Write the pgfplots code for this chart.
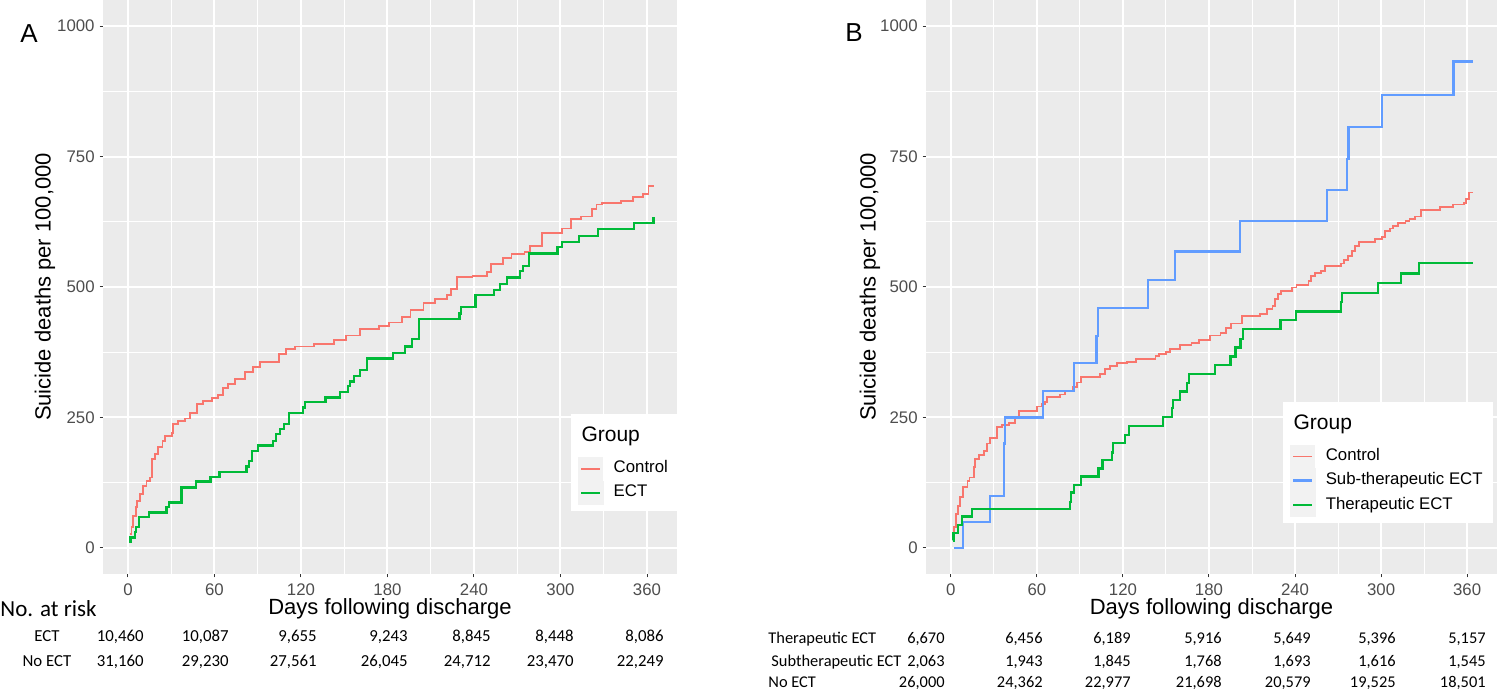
\documentclass[border=0pt]{standalone}
\usepackage{fontspec}
\setmainfont{Liberation Sans}
\newfontfamily\tabfont{Carlito}
\usepackage{pgfplots}
\pgfplotsset{compat=1.18}
\definecolor{panelbg}{HTML}{EBEBEB}
\definecolor{ctrlred}{HTML}{F8766D}
\definecolor{subblue}{HTML}{619CFF}
\definecolor{thergreen}{HTML}{00BA38}
\definecolor{tickgray}{HTML}{4D4D4D}
\definecolor{tickmark}{HTML}{333333}
\definecolor{keybg}{HTML}{F2F2F2}
\pgfplotsset{gg/.style={
  scale only axis, height=287pt,
  xmin=-17.3, xmax=380.8, ymin=-50, ymax=1050,
  axis background/.style={fill=panelbg},
  axis line style={draw=none},
  xtick={0,60,...,360}, ytick={0,250,500,750,1000},
  minor xtick={30,90,...,330}, minor ytick={125,375,625,875},
  grid=both,
  major grid style={white, line width=1pt},
  minor grid style={white, line width=0.5pt},
  tick align=outside, major tick length=1.7pt, minor tick length=0pt,
  xtick pos=bottom, ytick pos=left,
  major tick style={tickmark, line width=0.5pt},
  /pgf/number format/assume math mode=true,
  /pgf/number format/1000 sep={},
  xticklabel style={font=\fontsize{8.4}{10}\selectfont, text=tickgray, anchor=north, inner sep=0pt, yshift=-2.8pt},
  yticklabel style={font=\fontsize{8.4}{10}\selectfont, text=tickgray, anchor=east, inner sep=0pt, xshift=-2.3pt},
  xlabel={Days following discharge},
  ylabel={Suicide deaths per 100,000},
  xlabel style={font=\fontsize{11}{13}\selectfont, at={(axis description cs:0.5,-0.061)}, anchor=center},
  ylabel style={font=\fontsize{11}{13}\selectfont, anchor=center},
  legend cell align=left,
  legend style={anchor=north west, fill=white, draw=none, inner xsep=3.5pt, inner ysep=3pt,
    font=\fontsize{8.4}{10}\selectfont, row sep=0pt, column sep=3.5pt,
    nodes={inner sep=1.6pt, text height=6pt, text depth=1.8pt}},
  keyline/.style={legend image code/.code={\fill[keybg] (0pt,-5.5pt) rectangle (11.5pt,5.5pt); \draw[##1] (1pt,0pt) -- (10.5pt,0pt);}},
  ctrlstyle/.style={draw=ctrlred, line width=0.95pt, const plot},
  substyle/.style={draw=subblue, line width=1.15pt, const plot},
  therstyle/.style={draw=thergreen, line width=1.15pt, const plot},
}}
\begin{document}
\begin{tikzpicture}
\path[use as bounding box] (0,0) rectangle (750pt,345pt);
% Panel A
\begin{axis}[gg, at={(51.5pt,58pt)}, anchor=south west, width=287pt,
  legend style={at={(axis description cs:0.815,0.279)}},
  ylabel style={at={(axis description cs:-0.101,0.5)}}]
\addlegendimage{empty legend}
\addlegendentry[text height=9pt, text depth=6pt, font=\fontsize{10.5}{12}\selectfont]{\hspace*{-16.1pt}Group}
\addlegendimage{keyline, draw=ctrlred, line width=0.95pt}
\addlegendentry{Control}
\addlegendimage{keyline, draw=thergreen, line width=1.15pt}
\addlegendentry{ECT}
\addplot[ctrlstyle, forget plot] coordinates {
(1.4,27)(2.5,40)(3.7,62)(5.6,78)(6.5,90)(8.3,103)(10.6,119)(12.9,129)(15.2,135)(16.4,170)(18.7,180)(21,193)(24,205)(25.7,215)(30.3,221)(31.5,237)(35,243)(39.6,248)(43.1,259)(47.7,275)(52.3,282)(58,288)(62.6,293)(66,307)(69.5,314)(74,323)(81.3,337)(86.5,347)(91.6,357)(104.5,371)(109.7,381)(116,386)(129,391)(143,398)(151,407)(161,419)(174,425)(181,432)(190,443)(196,456)(205,469)(213,477)(221,484)(224,497)(228,520)(239,521)(249,528)(252,544)(260,555)(266,564)(275,567)(279,579)(287,603)(301,612)(307,631)(314,635)(322,649)(325,658)(329,661)(342,665)(350,672)(357,679)(361,694)(364.6,694)};
\addplot[therstyle, forget plot] coordinates {
(0.9,11)(1.8,20)(4.9,30)(5.6,40)(7.9,59)(14.8,68)(26.8,78)(28.4,87)(37.2,116)(47,127)(57.3,136)(63.4,146)(82.3,156)(84,167)(85.8,186)(90.4,196)(100.8,205)(102.5,218)(105.4,228)(108,237)(111.9,258)(121.2,269)(122.8,279)(137.1,288)(147,299)(152.8,310)(154,319)(157,330)(161,341)(166,363)(184,373)(192,386)(197,401)(202,438)(230,449)(231,461)(241,484)(254,494)(258,506)(263,518)(272,531)(274,540)(278,564)(298,576)(301,586)(313,598)(326,611)(351,623)(364.6,634)};
\end{axis}
% Panel B
\begin{axis}[gg, at={(463pt,58pt)}, anchor=south west, width=285.5pt,
  legend style={at={(axis description cs:0.625,0.300)}},
  ylabel style={at={(axis description cs:-0.098,0.5)}}]
\addlegendimage{empty legend}
\addlegendentry[text height=9pt, text depth=6pt, font=\fontsize{10.5}{12}\selectfont]{\hspace*{-16.1pt}Group}
\addlegendimage{keyline, draw=ctrlred, line width=0.95pt}
\addlegendentry{Control}
\addlegendimage{keyline, draw=subblue, line width=1.15pt}
\addlegendentry{Sub-therapeutic ECT}
\addlegendimage{keyline, draw=thergreen, line width=1.15pt}
\addlegendentry{Therapeutic ECT}
\addplot[ctrlstyle, forget plot] coordinates {
(1.5,24)(2.4,40)(3.8,65)(5.3,80)(6.5,97)(8.8,116)(11.6,128)(13,135)(16.3,155)(17,170)(19.5,178)(23,186)(25,200)(27.6,210)(32.2,231)(35.7,235)(40.4,240)(45,248)(47.4,262)(60.1,271)(63.6,275)(65.9,279)(67,290)(76.3,294)(79.8,301)(85,309)(88,317)(91,328)(103.8,333)(107.5,343)(111,348)(116,354)(122.6,357)(129,362)(142.7,367)(145,372)(150,376)(152.7,381)(159.8,388)(167.8,393)(172.9,398)(180.4,407)(188,412)(191.7,422)(195.5,430)(203,444)(215.6,449)(220.6,458)(224.3,464)(226,477)(228,487)(230,492)(238,499)(241,503)(249.4,511)(251,521)(254,526)(258,531)(261,540)(272,545)(274,552)(277,560)(279.6,569)(282,579)(284.5,586)(295.9,592)(300.5,596)(303,607)(306,612)(308.5,617)(312,622)(317,626)(319.8,631)(323.5,635)(328,648)(341,653)(350,658)(357.5,661)(359.4,668)(361,681)(364.3,681)};
\addplot[substyle, forget plot] coordinates {
(1.9,0)(8.6,49)(27.4,100)(37,200)(37.6,250)(64.5,301)(86,354)(101.5,406)(102.5,460)(137.7,514)(156.5,568)(201.7,626)(262.5,686)(276.3,745)(277.3,807)(300.5,868)(350.5,932)(364.3,932)};
\addplot[therstyle, forget plot] coordinates {
(1.3,14)(1.8,29)(5,44)(7.8,60)(14.6,75)(83,88)(84,106)(86,121)(91,137)(103,152)(105.8,168)(112.5,183)(113,201)(121.6,217)(124,234)(147.7,251)(154,268)(154.8,283)(160,300)(164.8,316)(166,333)(184,350)(195,367)(198.5,384)(202,401)(203.7,419)(229.8,437)(240.6,453)(272,471)(272.6,489)(297.6,508)(313.7,526)(326.5,546)(364.3,546)};
\end{axis}
% Panel letters
\node[font=\fontsize{13}{15}\selectfont, inner sep=0pt] at (14.5pt,328pt) {A};
\node[font=\fontsize{13}{15}\selectfont, inner sep=0pt] at (427pt,328.5pt) {B};
% Table A
\begin{scope}[every node/.style={inner sep=0pt, font=\tabfont\fontsize{8.4}{10}\selectfont}]
\node[anchor=west, font=\tabfont\fontsize{11.5}{13}\selectfont] at (0pt,40.5pt) {No. at risk};
\node[anchor=base] at (23.5pt,24.3pt) {ECT};
\node[anchor=base] at (23.5pt,11.8pt) {No ECT};
\foreach \x/\v in {72/{10,460},114.5/{10,087},158.5/{9,655},204/{9,243},245.5/{8,845},287/{8,448},332/{8,086}}
  \node[anchor=base east] at (\x pt,24.3pt) {\v};
\foreach \x/\v in {72/{31,160},114.5/{29,230},158.5/{27,561},204/{26,045},245.5/{24,712},287/{23,470},332/{22,249}}
  \node[anchor=base east] at (\x pt,11.8pt) {\v};
\end{scope}
% Table B
\begin{scope}[every node/.style={inner sep=0pt, font=\tabfont\fontsize{8.2}{10}\selectfont}]
\node[anchor=base west] at (384pt,23.35pt) {Therapeutic ECT};
\node[anchor=base west] at (385.5pt,11.85pt) {Subtherapeutic ECT};
\node[anchor=base west] at (384pt,1.2pt) {No ECT};
\foreach \x/\v in {472.5/{6,670},521.5/{6,456},565.5/{6,189},611/{5,916},655.5/{5,649},698/{5,396},743/{5,157}}
  \node[anchor=base east] at (\x pt,23.35pt) {\v};
\foreach \x/\v in {472.5/{2,063},521.5/{1,943},565.5/{1,845},611/{1,768},655.5/{1,693},698/{1,616},743/{1,545}}
  \node[anchor=base east] at (\x pt,11.85pt) {\v};
\foreach \x/\v in {472.5/{26,000},521.5/{24,362},565.5/{22,977},611/{21,698},655.5/{20,579},698/{19,525},743/{18,501}}
  \node[anchor=base east] at (\x pt,1.2pt) {\v};
\end{scope}
\end{tikzpicture}
\end{document}
